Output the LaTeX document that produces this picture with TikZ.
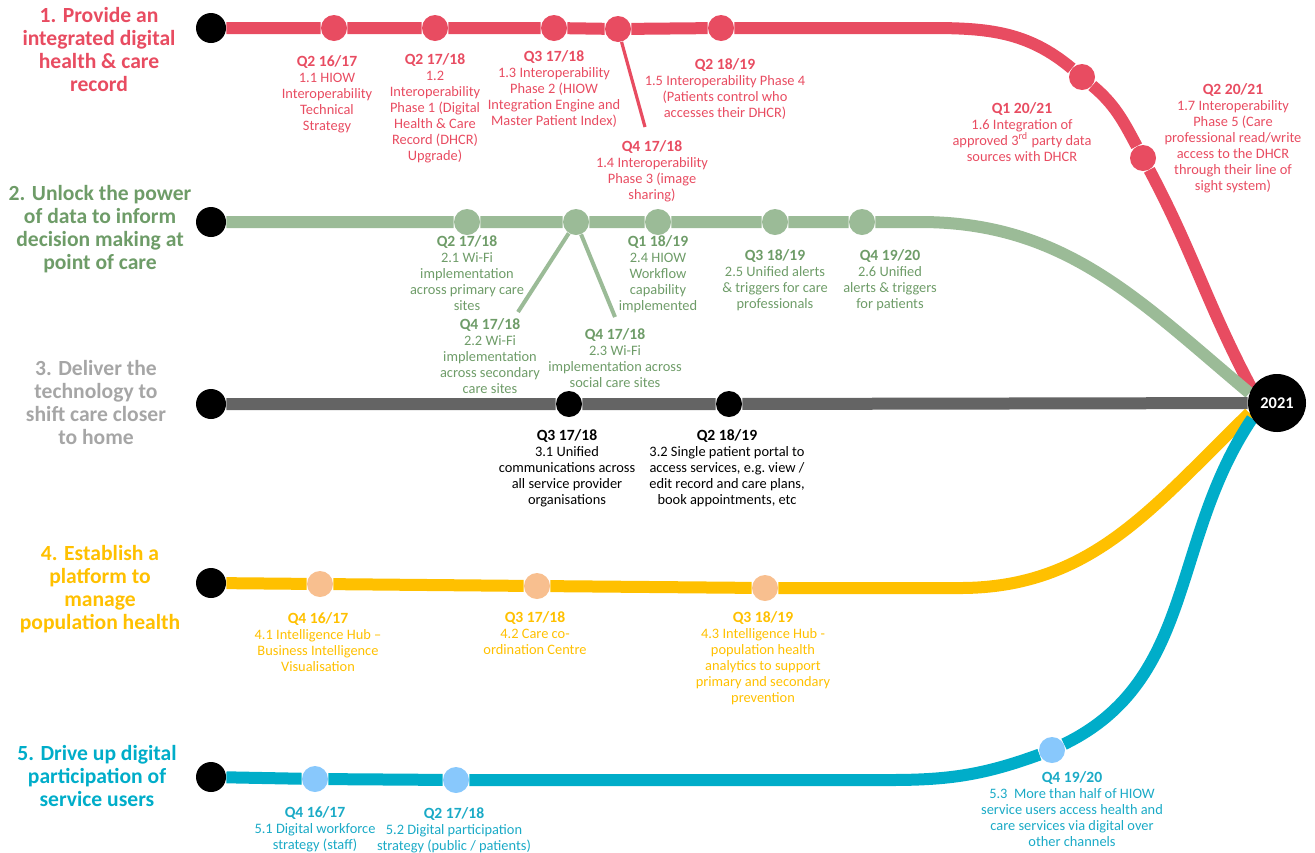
\documentclass[tikz,border=0pt]{standalone}
\usepackage{fontspec}
\setmainfont{Carlito}
\usetikzlibrary{positioning,backgrounds}

\definecolor{redline}{HTML}{E84C61}
\definecolor{greenline}{HTML}{9BBB97}
\definecolor{greentext}{HTML}{6E9C68}
\definecolor{greyline}{HTML}{646464}
\definecolor{greytitle}{HTML}{A6A6A6}
\definecolor{yellowline}{HTML}{FFC000}
\definecolor{peach}{HTML}{F8BF8F}
\definecolor{cyanline}{HTML}{00ADC9}
\definecolor{cyantext}{HTML}{1AAAC6}
\definecolor{skyblue}{HTML}{88C8FC}

\newcommand{\qtr}[1]{{\bfseries\fontsize{7.8}{8}\selectfont #1}}

\begin{document}
\begin{tikzpicture}[x=0.5pt,y=0.5pt,node distance=6pt,
  start/.style={circle,fill=black,minimum size=15pt,inner sep=0pt},
  stop/.style={circle,minimum size=13pt,inner sep=0pt},
  goal/.style={circle,fill=black,minimum size=29pt,inner sep=0pt,text=white,font=\bfseries\fontsize{8.2}{9}\selectfont},
  ttl/.style={align=center,inner sep=0pt,anchor=north,font=\bfseries\fontsize{10.8}{11.5}\selectfont},
  lbl/.style={align=center,inner sep=0pt,font=\fontsize{7.2}{8}\selectfont},
  track/.style={line width=6pt},
  spur/.style={line width=1.6pt}]

\useasboundingbox (0,0) rectangle (1315,-852);

% titles
\node[ttl,text=redline] (T_1) at (99,-7) {1. Provide an\\integrated digital\\health \& care\\record};
\node[ttl,text=greentext] (T_2) at (100,-185) {2. Unlock the power\\of data to inform\\decision making at\\point of care};
\node[ttl,text=greytitle] (T_3) at (96,-360) {3. Deliver the\\technology to\\shift care closer\\to home};
\node[ttl,text=yellowline] (T_4) at (100,-545) {4. Establish a\\platform to\\manage\\population health};
\node[ttl,text=cyanline] (T_5) at (97,-745) {5. Drive up digital\\participation of\\service users};

% start and end
\node[start] (s_1) at (211,-28) {};
\node[start] (s_2) at (211,-222) {};
\node[start] (s_3) at (211,-404) {};
\node[start] (s_4) at (211,-583) {};
\node[start] (s_5) at (211,-777) {};
\node[goal] (end) at (1277,-403) {2021};

% line 1
\node[stop,fill=redline] (m_11) at (334,-28) {};
\node[stop,fill=redline] (m_12) at (435,-28) {};
\node[stop,fill=redline] (m_13) at (554,-28) {};
\node[stop,fill=redline] (m_14) at (618,-29) {};
\node[stop,fill=redline] (m_15) at (721,-28) {};
\node[stop,fill=redline] (m_16) at (1082,-77) {};
\node[stop,fill=redline] (m_17) at (1143,-158) {};
\coordinate (k_1) at (930,-28);
\coordinate (b_14) at (645,-127);

% line 2
\node[stop,fill=greenline] (m_21) at (467,-222) {};
\node[stop,fill=greenline] (m_22) at (576,-222) {};
\node[stop,fill=greenline] (m_24) at (658,-222) {};
\node[stop,fill=greenline] (m_25) at (775,-222) {};
\node[stop,fill=greenline] (m_26) at (862,-222) {};
\coordinate (k_2) at (920,-222);
\coordinate (b_22) at (518,-312);
\coordinate (b_23) at (615,-317);

% line 3
\node[stop,fill=black] (m_31) at (569,-404) {};
\node[stop,fill=black] (m_32) at (729,-404) {};

% line 4
\node[stop,fill=peach] (m_41) at (320,-584) {};
\node[stop,fill=peach] (m_42) at (537,-586) {};
\node[stop,fill=peach] (m_43) at (765,-588) {};
\coordinate (k_4) at (960,-588);

% line 5
\node[stop,fill=skyblue] (m_51) at (315,-779) {};
\node[stop,fill=skyblue] (m_52) at (456,-780) {};
\node[stop,fill=skyblue] (m_53) at (1052,-750) {};
\coordinate (k_5) at (890,-780);

\begin{pgfonlayer}{background}
\draw[track,redline] (s_1) -- (m_11) -- (m_12) -- (m_13) -- (m_14) -- (m_15) -- (k_1)
  to[out=0,in=140] (m_16) to[out=-40,in=118] (m_17) to[out=-62,in=118] (end.150);
\draw[spur,redline] (m_14) -- (b_14);
\draw[track,greenline] (s_2) -- (m_21) -- (m_22) -- (m_24) -- (m_25) -- (m_26) -- (k_2)
  to[out=0,in=140] (end.160);
\draw[spur,greenline,line width=2pt] (m_22) -- (b_22) (m_22) -- (b_23);
\draw[track,greyline] (s_3) -- (m_31) -- (m_32) -- (end);
\draw[track,yellowline] (s_4) -- (m_41) -- (m_42) -- (m_43) -- (k_4)
  to[out=0,in=-136] (end.200);
\draw[track,cyanline] (s_5) -- (m_51) -- (m_52) -- (k_5)
  to[out=0,in=200] (m_53) to[out=26,in=-124] (end.212);
\end{pgfonlayer}

% labels line 1
\node[lbl,text=redline,below=6.75pt of m_11,xshift=-3.5pt] (t_11) {\qtr{Q2 16/17}\\1.1 HIOW\\Interoperability\\Technical\\Strategy};
\node[lbl,text=redline,below=5.75pt of m_12] (t_12) {\qtr{Q2 17/18}\\1.2\\Interoperability\\Phase 1 (Digital\\Health \& Care\\Record (DHCR)\\Upgrade)};
\node[lbl,text=redline,below=4.25pt of m_13] (t_13) {\qtr{Q3 17/18}\\1.3 Interoperability\\Phase 2 (HIOW\\Integration Engine and\\Master Patient Index)};
\node[lbl,text=redline,below=6.5pt of b_14,xshift=3.5pt] (t_14) {\qtr{Q4 17/18}\\1.4 Interoperability\\Phase 3 (image\\sharing)};
\node[lbl,text=redline,below=8.25pt of m_15,xshift=2pt] (t_15) {\qtr{Q2 18/19}\\1.5 Interoperability Phase 4\\(Patients control who\\accesses their DHCR)};
\node[lbl,text=redline,below=5.75pt of m_16,xshift=-30pt] (t_16) {\qtr{Q1 20/21}\\1.6 Integration of\\approved 3\textsuperscript{rd} party data\\sources with DHCR};
\node[lbl,text=redline,anchor=north] (t_17) at (1233,-83) {\qtr{Q2 20/21}\\1.7 Interoperability\\Phase 5 (Care\\professional read/write\\access to the DHCR\\through their line of\\sight system)};

% labels line 2
\node[lbl,text=greentext,below=0pt of m_21] (t_21) {\qtr{Q2 17/18}\\2.1 Wi-Fi\\implementation\\across primary care\\sites};
\node[lbl,text=greentext,below=3pt of b_22,xshift=-14pt] (t_22) {\qtr{Q4 17/18}\\2.2 Wi-Fi\\implementation\\across secondary\\care sites};
\node[lbl,text=greentext,below=5.5pt of b_23] (t_23) {\qtr{Q4 17/18}\\2.3 Wi-Fi\\implementation across\\social care sites};
\node[lbl,text=greentext,below=0pt of m_24] (t_24) {\qtr{Q1 18/19}\\2.4 HIOW\\Workflow\\capability\\implemented};
\node[lbl,text=greentext,below=6.75pt of m_25] (t_25) {\qtr{Q3 18/19}\\2.5 Unified alerts\\\& triggers for care\\professionals};
\node[lbl,text=greentext,below=6.75pt of m_26,xshift=14pt] (t_26) {\qtr{Q4 19/20}\\2.6 Unified\\alerts \& triggers\\for patients};

% labels line 3
\node[lbl,text=black,below=5.75pt of m_31,xshift=-1pt] (t_31) {\qtr{Q3 17/18}\\3.1 Unified\\communications across\\all service provider\\organisations};
\node[lbl,text=black,below=5.75pt of m_32,xshift=-1pt] (t_32) {\qtr{Q2 18/19}\\3.2 Single patient portal to\\access services, e.g.\ view /\\edit record and care plans,\\book appointments, etc};

% labels line 4
\node[lbl,text=yellowline,below=7.25pt of m_41,xshift=-1pt] (t_41) {\qtr{Q4 16/17}\\4.1 Intelligence Hub --\\Business Intelligence\\Visualisation};
\node[lbl,text=yellowline,below=5.75pt of m_42,xshift=-1pt] (t_42) {\qtr{Q3 17/18}\\4.2 Care co-\\ordination Centre};
\node[lbl,text=yellowline,below=4.75pt of m_43,xshift=-1pt] (t_43) {\qtr{Q3 18/19}\\4.3 Intelligence Hub -\\population health\\analytics to support\\primary and secondary\\prevention};

% labels line 5
\node[lbl,text=cyantext,below=6.75pt of m_51] (t_51) {\qtr{Q4 16/17}\\5.1 Digital workforce\\strategy (staff)};
\node[lbl,text=cyantext,below=6.75pt of m_52,xshift=-1pt] (t_52) {\qtr{Q2 17/18}\\5.2 Digital participation\\strategy (public / patients)};
\node[lbl,text=cyantext,below=3.75pt of m_53,xshift=10pt] (t_53) {\qtr{Q4 19/20}\\5.3\ \ More than half of HIOW\\service users access health and\\care services via digital over\\other channels};

\end{tikzpicture}
\end{document}
